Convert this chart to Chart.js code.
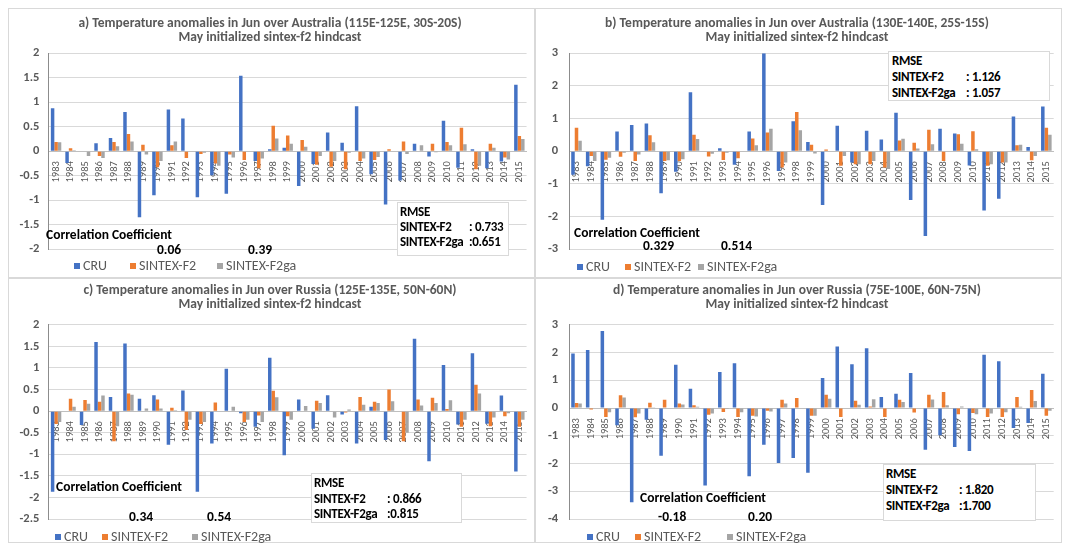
<!DOCTYPE html>
<html>
<head>
<meta charset="utf-8">
<script src="https://cdn.jsdelivr.net/npm/chart.js@4.4.1/dist/chart.umd.min.js"></script>
<style>
  body { margin: 0; width: 1066px; height: 545px; background: #fff; position: relative; overflow: hidden;
         font-family: Carlito, Lato, sans-serif; }
  .panel { position: absolute; border: 1px solid #d9d9d9; box-sizing: border-box; background: #fff; }
  .panel canvas { display: block; }
  .txt { position: absolute; white-space: nowrap; font-weight: bold; font-size: 13.5px; color: #000; line-height: 14px; }
  .rm { position: absolute; white-space: nowrap; font-weight: bold; font-size: 13px; letter-spacing: -0.3px; color: #000; line-height: 14px; }
  .box { position: absolute; background: #fff; border: 1px solid #d9d9d9; box-sizing: border-box; }
  .leg { position: absolute; white-space: nowrap; font-size: 14px; color: #595959; line-height: 14px; }
  .sq { position: absolute; width: 6px; height: 6px; }
</style>
</head>
<body>

<div class="panel" id="pa" style="left:8px;top:8px;width:527px;height:270px"><canvas id="chartA"></canvas></div>
<div class="panel" id="pb" style="left:535px;top:8px;width:527px;height:270px"><canvas id="chartB"></canvas></div>
<div class="panel" id="pc" style="left:8px;top:278px;width:527px;height:265px"><canvas id="chartC"></canvas></div>
<div class="panel" id="pd" style="left:535px;top:278px;width:527px;height:265px"><canvas id="chartD"></canvas></div>

<script>
const years = ['1983','1984','1985','1986','1987','1988','1989','1990','1991','1992','1993',
  '1994','1995','1996','1997','1998','1999','2000','2001','2002','2003','2004','2005','2006',
  '2007','2008','2009','2010','2011','2012','2013','2014','2015'];
const seriesNames = ['CRU', 'SINTEX-F2', 'SINTEX-F2ga'];

// a) Australia 115E-125E, 30S-20S
const aCru  = [0.88, -0.24, 0, 0.16, 0.27, 0.8, -1.35, -0.9, 0.85, 0.67, -0.94, -0.49, -0.87, 1.54, -0.2, 0.04,
               0.07, -0.71, -0.26, 0.38, 0.17, 0.92, -0.47, -1.09, -0.6, 0.15, -0.11, 0.62, -0.34, 0.04, -0.35, -0.21, 1.36];
const aF2   = [0.19, 0.06, -0.01, -0.1, 0.19, 0.35, 0.13, -0.33, 0.12, -0.14, -0.06, -0.25, -0.07, -0.18, -0.35, 0.52,
               0.32, 0.23, -0.28, -0.32, -0.37, -0.2, -0.18, 0.04, 0.2, 0, 0.15, 0.19, 0.48, -0.37, 0.15, -0.13, 0.31];
const aF2ga = [0.18, 0.02, -0.1, -0.14, 0.1, 0.2, -0.07, -0.2, 0.2, 0, -0.03, -0.3, -0.13, 0, -0.15, 0.26,
               0.15, 0.09, -0.1, -0.2, -0.03, -0.15, -0.12, 0, -0.06, 0.12, -0.02, 0.12, 0.14, -0.3, 0.07, -0.17, 0.25];
const aTicks = [-2, 2, 0.5];

// b) Australia 130E-140E, 25S-15S
const bCru  = [-0.72, -0.46, -2.1, 0.6, 0.8, 0.85, -1.29, -0.63, 1.81, 0, 0.09, -0.42, 0.6, 3.0, -0.61, 0.92,
               0.28, -1.65, 0.78, -0.35, 0.63, 0.36, 1.18, -1.5, -2.6, 0.69, 0.54, -0.44, -1.82, -1.46, 1.06, 0.13, 1.37];
const bF2   = [0.72, -0.15, -0.26, -0.17, -0.3, 0.49, -0.3, -0.3, 0.5, -0.16, -0.27, -0.22, 0.39, 0.57, -0.5, 1.2,
               0.2, 0.05, -0.45, -0.4, -0.4, -0.5, 0.33, 0.26, 0.66, -0.3, 0.52, 0.61, -0.45, -0.35, 0.18, -0.28, 0.72];
const bF2ga = [0.32, -0.3, -0.2, -0.05, -0.1, 0.27, -0.28, -0.25, 0.37, -0.08, -0.05, 0, 0.18, 0.69, -0.35, 0.64,
               -0.07, 0, -0.15, -0.4, -0.3, -0.55, 0.38, 0.08, 0.21, 0, 0.23, 0.06, -0.4, -0.35, 0.2, -0.15, 0.5];
const bTicks = [-3, 3, 1];

// c) Russia 125E-135E, 50N-60N
const cCru  = [-1.87, 0, -0.32, 1.6, 0.33, 1.57, 0.29, 0.37, -0.78, 0.48, -1.87, -0.75, 0.98, -0.05, -0.36, 1.24,
               -1.02, 0.27, -0.41, 0.37, -0.08, -0.75, 0.1, -0.67, 0, 1.68, -1.16, 1.07, -0.31, 1.34, -0.29, 0.36, -1.4];
const cF2   = [-0.3, 0.29, 0.26, 0.22, -0.7, 0.41, 0, 0.27, 0.08, -0.44, -0.3, 0.2, 0, -0.25, -0.1, 0.47,
               -0.12, 0, 0.24, 0, -0.03, 0.33, 0.22, 0.5, -0.7, 0.27, 0.31, 0.05, -0.36, 0.61, -0.35, -0.12, -0.36];
const cF2ga = [-0.25, 0.1, 0.17, 0.36, -0.35, 0.38, 0.06, 0.06, 0.02, -0.2, -0.25, 0, 0.1, -0.2, -0.25, 0.32,
               -0.2, 0.12, 0.19, -0.15, 0.04, 0.15, 0.19, 0.23, -0.5, 0.13, 0.19, 0.25, -0.2, 0.41, -0.15, -0.05, -0.2];
const cTicks = [-2.5, 2, 0.5];

// d) Russia 75E-100E, 60N-75N
const dCru  = [1.97, 2.09, 2.78, -0.62, -3.4, -0.42, -1.72, 1.56, 0.7, -2.79, 1.3, 1.62, -2.46, -1.32, -1.98, -1.8,
               -2.33, 1.08, 2.22, 1.58, 2.16, 0.4, 0.52, 1.26, -1.5, -0.98, -1.4, -1.55, 1.92, 1.69, -0.72, -0.54, 1.24];
const dF2   = [0.18, -0.05, -0.32, 0.46, -0.33, 0.19, 0.3, 0.16, 0.1, -0.24, -0.14, -0.32, -0.28, -0.1, 0.3, 0.36,
               -0.28, 0.48, -0.32, 0.26, 0.06, -0.32, 0.3, -0.16, 0.48, 0.58, -0.22, -0.18, -0.32, -0.32, 0.4, 0.65, -0.28];
const dF2ga = [0.16, 0, -0.15, 0.38, -0.2, 0.03, 0, 0.13, 0.05, -0.2, -0.03, -0.15, -0.3, -0.12, 0.16, 0,
               -0.28, 0.34, 0, 0.12, 0.32, 0, 0.22, 0, 0.31, 0.1, 0.06, -0.22, -0.2, -0.15, 0.05, 0.25, -0.1];
const dTicks = [-4, 3, 1];

const colors = ['#4472C4', '#ED7D31', '#A5A5A5'];
const FONT = 'Carlito, Lato, sans-serif';

function makeChart(id, title, series, ticks, pad) {
    const canvas = document.getElementById(id);
    const box = canvas.parentElement;
    canvas.width = box.clientWidth;
    canvas.height = box.clientHeight;
    return new Chart(canvas.getContext('2d'), {
        type: 'bar',
        data: {
            labels: years,
            datasets: series.map((d, i) => ({
                label: seriesNames[i],
                data: d,
                backgroundColor: colors[i],
                categoryPercentage: 0.72,
                barPercentage: 1.0
            }))
        },
        options: {
            responsive: false,
            animation: false,
            devicePixelRatio: 1,
            layout: { padding: { left: pad.left, right: 4, bottom: pad.bottom, top: 0 } },
            plugins: {
                legend: { display: false },
                tooltip: { enabled: false },
                title: {
                    display: true,
                    text: title,
                    color: '#595959',
                    font: { family: FONT, size: 13.5, weight: 'bold', lineHeight: 1.05 },
                    padding: { top: pad.titleTop, bottom: pad.titleBottom }
                }
            },
            scales: {
                x: {
                    position: { y: 0 },
                    afterFit: s => { s.height = 0; },
                    grid: { display: false },
                    border: { display: true, color: '#bfbfbf', width: 1 },
                    ticks: {
                        autoSkip: false, minRotation: 90, maxRotation: 90, padding: 2,
                        color: '#595959', font: { family: FONT, size: 10.5 }
                    }
                },
                y: {
                    min: ticks[0], max: ticks[1],
                    grid: { color: '#d9d9d9', drawTicks: false },
                    border: { display: true, color: '#8c8c8c', width: 1 },
                    ticks: {
                        stepSize: ticks[2], padding: pad.tick,
                        callback: v => String(Number(v.toFixed(2))),
                        color: '#595959', font: { family: FONT, size: 12.5, weight: 'bold' }
                    }
                }
            }
        }
    });
}

makeChart('chartA', ['a) Temperature anomalies in Jun over Australia (115E-125E, 30S-20S)', 'May initialized sintex-f2 hindcast'],
    [aCru, aF2, aF2ga], aTicks, { left: 1, tick: 9.5, bottom: 28, titleTop: 7.5, titleBottom: 8.5 });
makeChart('chartB', ['b) Temperature anomalies in Jun over Australia (130E-140E, 25S-15S)', 'May initialized sintex-f2 hindcast'],
    [bCru, bF2, bF2ga], bTicks, { left: 1, tick: 11, bottom: 28, titleTop: 7.5, titleBottom: 8.5 });
makeChart('chartC', ['c) Temperature anomalies in Jun over Russia (125E-135E, 50N-60N)', 'May initialized sintex-f2 hindcast'],
    [cCru, cF2, cF2ga], cTicks, { left: 1, tick: 9.5, bottom: 23, titleTop: 4.5, titleBottom: 13 });
makeChart('chartD', ['d) Temperature anomalies in Jun over Russia (75E-100E, 60N-75N)', 'May initialized sintex-f2 hindcast'],
    [dCru, dF2, dF2ga], dTicks, { left: 1, tick: 11, bottom: 23, titleTop: 4.5, titleBottom: 13 });

// text boxes and legends (page coordinates)
function addText(str, x, cy, cls) {
    const el = document.createElement('div');
    el.className = cls || 'txt';
    el.textContent = str;
    el.style.left = x + 'px';
    el.style.top = (cy - 7) + 'px';
    document.body.appendChild(el);
    return el;
}
function addRmse(rect, textX, col, ys, vals) {
    const b = document.createElement('div');
    b.className = 'box';
    b.style.left = rect[0] + 'px'; b.style.top = rect[1] + 'px';
    b.style.width = (rect[2] - rect[0]) + 'px'; b.style.height = (rect[3] - rect[1]) + 'px';
    document.body.appendChild(b);
    addText('RMSE', textX, ys[0], 'rm');
    addText('SINTEX-F2', textX, ys[1], 'rm');
    addText(vals[0], textX + col, ys[1], 'rm');
    addText('SINTEX-F2ga', textX, ys[2], 'rm');
    addText(vals[1], textX + col, ys[2], 'rm');
}
function addCorr(x, cy, vals, vy) {
    addText('Correlation Coefficient', x, cy);
    addText(vals[0], vals[1], vy);
    addText(vals[2], vals[3], vy);
}
function addLegend(xs, cy) {
    seriesNames.forEach((n, i) => {
        const s = document.createElement('div');
        s.className = 'sq';
        s.style.background = colors[i];
        s.style.left = xs[i] + 'px';
        s.style.top = (cy - 3) + 'px';
        document.body.appendChild(s);
        addText(n, xs[i] + 9, cy, 'leg');
    });
}

addCorr(46, 235, ['0.06', 157, '0.39', 248], 250);
addCorr(574, 233, ['0.329', 643, '0.514', 721], 246);
addCorr(56, 487, ['0.34', 129, '0.54', 207], 517);
addCorr(640, 498, ['-0.18', 658, '0.20', 748], 517);

addRmse([397, 202, 509, 256], 400, 69, [212, 227, 242], [': 0.733', ':0.651']);
addRmse([888, 51, 1050, 101], 892, 74, [61, 77, 93], [': 1.126', ': 1.057']);
addRmse([311, 473, 462, 523], 314, 73, [483, 499, 514], [': 0.866', ':0.815']);
addRmse([883, 464, 1036, 521], 886, 73, [474, 490, 506], [': 1.820', ':1.700']);

addLegend([74, 130, 217], 266);
addLegend([577, 625, 698], 267);
addLegend([55, 102, 192], 537);
addLegend([587, 635, 727], 537);
</script>
</body>
</html>
